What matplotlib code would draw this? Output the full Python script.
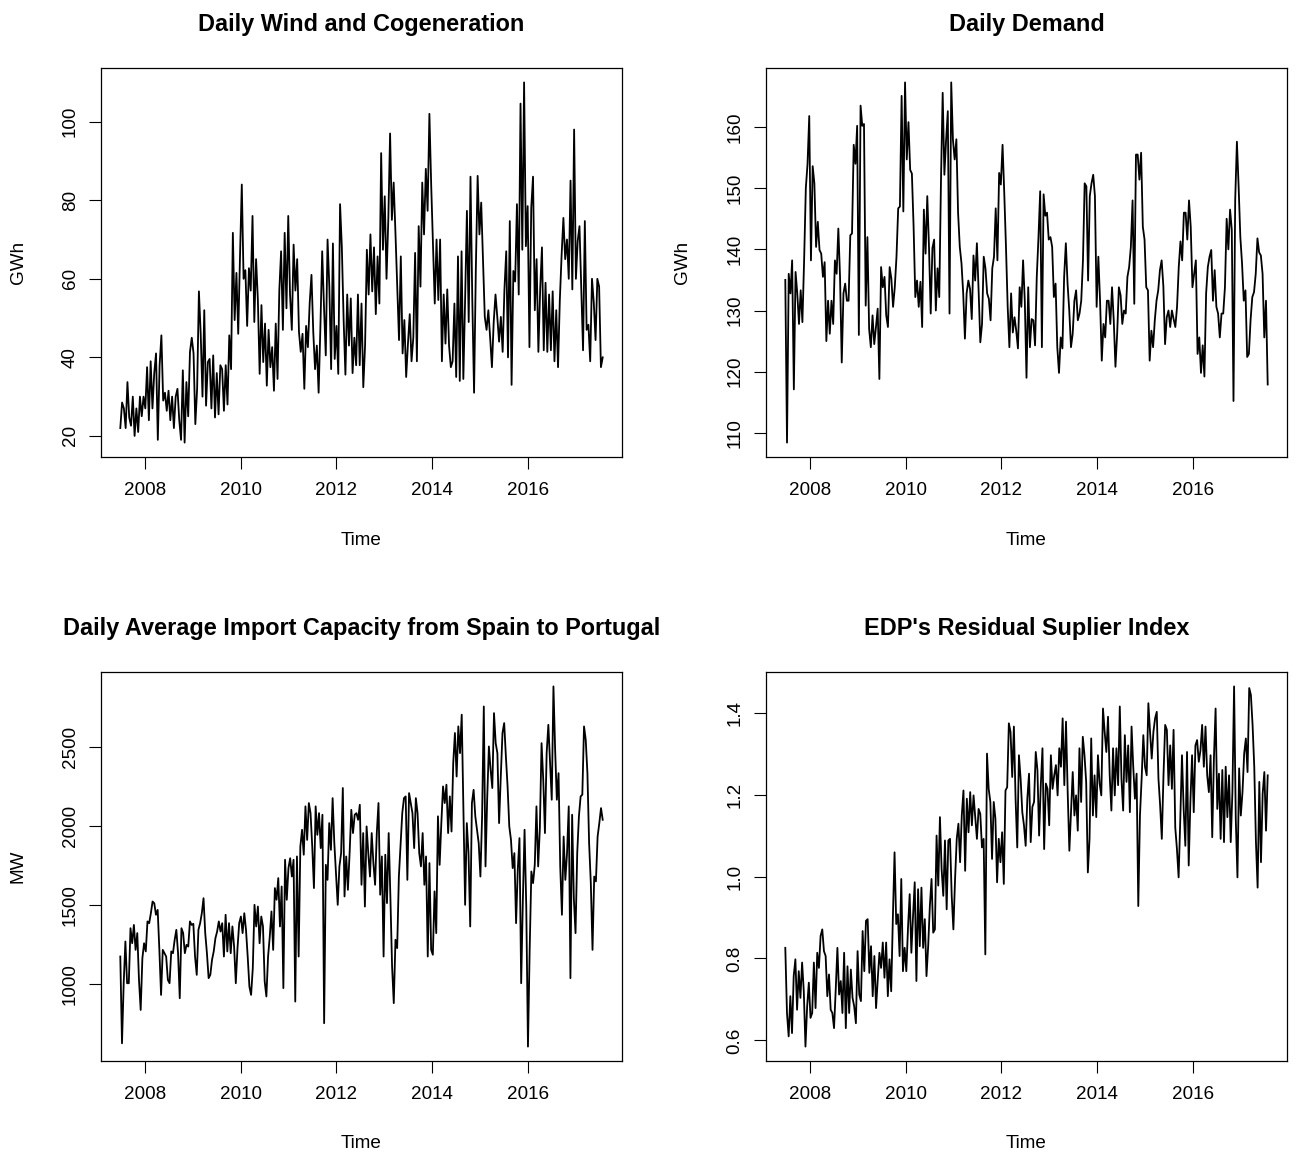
import matplotlib
matplotlib.use("Agg")
import matplotlib.pyplot as plt
import numpy as np
from matplotlib.ticker import FormatStrFormatter

plt.rcParams['font.family'] = ['Liberation Sans', 'DejaVu Sans']

# weekly series, mid-2007 to mid-2017
T_START, T_END = 2007.48, 2017.57

wind = [
    # 2007
    22, 28.5, 27, 22, 33.7, 24.7, 22.6, 30, 20, 27, 21, 30, 25, 30, 27,
    # 2008
    37.5, 24, 39, 27, 36, 41, 19, 38, 45.6, 29, 31, 26.4, 31.5, 24, 30, 22, 30, 32, 24, 19, 36.7, 18.3, 33.7, 25, 41.4, 45,
    # 2009
    41, 23, 32, 56.8, 46, 30, 52, 27.7, 38.8, 39.6, 27, 40.5, 24.7, 36, 25.5, 38, 37, 26.4, 38, 28, 45.6, 37, 71.7, 49.5, 61.5, 46, 65.7,
    # 2010
    84, 60, 62.2, 48, 62.7, 57, 76, 49, 65, 54.6, 35.8, 53.3, 38.8, 48.6, 32.8, 47, 37.5, 42.6, 31.5, 48.6, 34.5, 57, 67, 47, 71.7, 52.5, 76,
    # 2011
    56, 47, 68.7, 57, 65, 46.5, 41.4, 46, 32, 48, 42.6, 53.8, 61, 46.5, 37, 43, 31, 47.8, 67, 53, 40.5, 70, 58, 37,
    # 2012
    69, 39.6, 48, 35.8, 79, 68, 49.5, 35.6, 56, 43, 55, 36, 45, 38, 56, 38, 53.7, 32.4, 43, 67.4, 56, 71.3, 56.8, 68, 51, 65.7, 53.7,
    # 2013
    92, 67.4, 81, 60, 75, 97, 75, 84.5, 71.7, 58, 44.4, 65.7, 41, 49.5, 35, 43.5, 51, 39, 45, 66.6, 39, 73.4, 58, 84.5, 71.3, 88, 77.3,
    # 2014
    102, 84, 69, 53.7, 70, 54.6, 70, 39, 56, 43.5, 57.3, 43, 37.5, 39, 53.7, 35, 65.7, 34, 67, 34.5, 55, 77.3, 49, 86, 55, 31, 62.7,
    # 2015
    86.2, 71.3, 79.4, 65, 50.3, 47, 52, 45, 37.5, 49, 56, 50.3, 44, 50.3, 41.4, 57.3, 67, 40, 74.7, 33, 62, 59.3, 79, 56, 104.6, 67.4,
    # 2016
    110, 68.3, 78.5, 42.6, 78, 86, 52, 65, 41.4, 57.3, 68, 41.8, 59, 41.4, 56, 41.8, 56.8, 39, 52, 37.5, 54.6, 66, 75.5, 65, 70, 60, 85, 57.3, 98,
    # 2017
    60, 69.6, 73.4, 58, 41.8, 74.7, 47, 48.3, 39, 60, 54, 44.4, 60, 58, 37.5, 40,
]

demand = [
    # 2007
    135, 108.4, 136, 132.8, 138.2, 117.1, 136.3, 132.8, 127.8, 133.3, 128.1, 138.2, 150, 154, 161.8,
    # 2008
    138.2, 153.6, 150.8, 140.4, 144.5, 139.9, 139.3, 135.5, 137.9, 125, 131.6, 126.2, 131.6, 127.8, 138.2, 136, 143.4, 135.5,
    121.5, 132.8, 134.4, 131.6, 131.6, 142.3, 142.6, 157.1, 154, 160.2, 126,
    # 2009
    163.5, 160.2, 160.5, 130.8, 142, 127, 124, 129.2, 124.5, 127.3, 130.3, 118.8, 137.1, 133.8, 135.5, 129.2, 127.3, 137.1,
    135.2, 130.6, 133.8, 138.8, 146.7, 147, 165.1, 146.2,
    # 2010
    167.3, 154.7, 160.8, 153, 152.4, 143.7, 132.2, 134.9, 130.6, 134.7, 127.3, 146.5, 139.3, 148.7, 140.4, 129.5, 140.2, 141.6,
    130, 136.9, 132.2, 151.1, 165.6, 152.2, 157.9, 162.6, 129.5, 167.3,
    # 2011
    157.9, 154.7, 158, 146, 140.4, 137.7, 132.8, 125.4, 132.8, 134.9, 133.5, 128.6, 139, 134.9, 141, 133.3, 124.8, 127.8,
    138.8, 136.9, 132.8, 131.9, 128.4, 136.9, 138.8, 146.7, 138.2, 152.5,
    # 2012
    150.6, 157.1, 149.2, 140.4, 130.6, 124, 132.8, 126.4, 128.9, 126.7, 123.8, 133.8, 130.6, 138.2, 131.6, 119, 133.8, 124,
    128.6, 128.4, 124.3, 135.5, 142, 149.5, 124, 149,
    # 2013
    145.5, 146, 141.6, 142, 140.4, 132.2, 134.4, 124, 119.8, 125.6, 123.8, 135.5, 141, 134.4, 130, 124, 126.2, 131.6,
    133.3, 128.4, 129.5, 131.6, 138.2, 150.8, 150.3, 134.9, 148.7, 150.8,
    # 2014
    152.2, 148.7, 130.6, 138.8, 131.6, 121.8, 127.8, 125.6, 131.6, 131.6, 127.8, 133.8, 128.4, 120.8, 126.2, 133.8, 132.5,
    127.8, 130, 129.5, 135.5, 137.1, 140.4, 148, 131.1, 155.5, 155.5, 151.4, 155.8,
    # 2015
    143.7, 141.6, 133.8, 133.3, 121.8, 126.7, 124, 128.4, 131.6, 133.3, 136.6, 138.2, 134, 124.5, 128.9, 130, 127.3, 130,
    128.6, 127.3, 130.6, 137.1, 141.3, 138.2, 146, 146, 141.6, 148,
    # 2016
    143.7, 133.8, 136, 138.2, 122.9, 125.6, 119.8, 124.3, 119.2, 132.8, 137.1, 138.8, 139.9, 131.6, 136.6, 130.6, 129.5,
    125.6, 129.5, 129.5, 133.8, 145, 140, 146.5, 143.2, 115.2, 148.1, 157.6,
    # 2017
    150.3, 142, 137.7, 131.6, 133.3, 122.4, 122.9, 128.5, 132.2, 133, 136, 141.8, 139.5, 139, 136, 125.6, 131.6, 117.9,
]

import_capacity = [
    # 2007
    1173, 624, 1004, 1268, 1004, 1004, 1352, 1257, 1373, 1215, 1321, 1025, 835, 1162, 1257,
    # 2008
    1205, 1395, 1384, 1447, 1521, 1510, 1437, 1468, 1215, 930, 1215, 1194, 1173, 1025, 1004, 1205, 1194, 1278, 1342, 1194,
    909, 1352, 1321, 1194, 1247, 1236, 1395,
    # 2009
    1373, 1380, 1173, 1057, 1342, 1384, 1447, 1542, 1321, 1194, 1036, 1057, 1152, 1205, 1289, 1331, 1395, 1331, 1384, 1173,
    1437, 1205, 1384, 1194, 1363, 1236, 1004,
    # 2010
    1226, 1384, 1426, 1321, 1447, 1342, 1173, 983, 930, 1099, 1500, 1363, 1489, 1257, 1426, 1363, 1015, 920, 1173, 1300,
    1458, 1215, 1606, 1532, 1669, 1363, 1616, 973,
    # 2011
    1785, 1532, 1732, 1795, 1679, 1785, 888, 1806, 1173, 1869, 1975, 1817, 2123, 1911, 2144, 2080, 1869, 1606, 2123, 1943,
    2080, 1859, 2070, 751, 1753, 1658, 2017, 1848, 2175,
    # 2012
    1890, 1700, 1500, 1743, 1827, 2239, 1553, 1806, 1595, 1827, 2101, 1954, 2070, 2080, 2038, 2133, 1627, 1954, 1489, 1996,
    1827, 1679, 1954, 1764, 1627, 1954, 2144, 1564, 1806,
    # 2013
    1173, 1817, 1511, 1954, 1553, 1110, 878, 1279, 1226, 1679, 1880, 2080, 2175, 2186, 1658, 2207, 2144, 2080, 1859, 2175,
    2080, 1827, 1743, 1954, 1627, 1806, 1173, 1764, 1215, 1184,
    # 2014
    1585, 1321, 2060, 1753, 2017, 2249, 2144, 2260, 1954, 2186, 1964, 2397, 2587, 2312, 2629, 2460, 2703, 2101, 1500, 2017,
    1827, 1363, 2144, 2228, 2060, 1975, 1890, 1679,
    # 2015
    2060, 2755, 1743, 2175, 2502, 2355, 2239, 2713, 2523, 2460, 2017, 2312, 2587, 2650, 2439, 2249, 1996, 1911, 1732, 1827,
    1384, 1722, 1922, 1004, 1532, 1975, 1489,
    # 2016
    603, 1215, 1711, 1637, 1753, 2123, 1743, 1985, 2523, 2291, 1954, 2460, 2639, 2397, 2165, 2882, 2481, 2165, 2333, 1743,
    1437, 1932, 1658, 1827, 2123, 1036, 2070, 1542, 1321,
    # 2017
    1827, 2060, 2186, 2197, 2629, 2545, 2333, 1890, 1637, 1215, 1679, 1648, 1932, 2017, 2112, 2038,
]

rsi = [
    # 2007
    0.826, 0.667, 0.61, 0.708, 0.618, 0.757, 0.798, 0.675, 0.769, 0.704, 0.79, 0.72, 0.585, 0.683, 0.741,
    # 2008
    0.655, 0.667, 0.79, 0.679, 0.814, 0.777, 0.855, 0.871, 0.818, 0.806, 0.708, 0.761, 0.675, 0.667, 0.63, 0.724, 0.826,
    0.712, 0.745, 0.667, 0.814, 0.63, 0.781, 0.667, 0.773, 0.704, 0.683, 0.642,
    # 2009
    0.818, 0.712, 0.696, 0.867, 0.769, 0.892, 0.896, 0.765, 0.83, 0.708, 0.806, 0.679, 0.749, 0.814, 0.777, 0.839, 0.753,
    0.839, 0.708, 0.798, 0.72, 0.9, 1.059, 0.884, 0.908, 0.806, 0.994, 0.769,
    # 2010
    0.826, 0.769, 0.875, 0.957, 0.814, 0.904, 0.986, 0.745, 0.969, 0.83, 0.973, 0.826, 0.896, 0.757, 0.83, 0.928, 0.994,
    0.863, 0.871, 1.1, 0.978, 1.145, 1.018, 0.953, 1.088, 0.92, 1.088, 1.092,
    # 2011
    0.953, 0.871, 0.994, 1.092, 1.129, 1.035, 1.149, 1.21, 1.014, 1.19, 1.108, 1.206, 1.125, 1.198, 1.145, 1.092, 1.165,
    1.153, 1.071, 1.092, 0.81, 1.3, 1.214, 1.182, 1.043, 1.182, 1.141, 0.986,
    # 2012
    1.092, 1.035, 1.108, 0.982, 1.21, 1.218, 1.374, 1.353, 1.243, 1.366, 1.19, 1.071, 1.296, 1.239, 1.157, 1.125, 1.075,
    1.19, 1.251, 1.084, 1.17, 1.182, 1.304, 1.26, 1.1, 1.223, 1.313, 1.067, 1.227,
    # 2013
    1.214, 1.125, 1.296, 1.214, 1.247, 1.272, 1.198, 1.313, 1.268, 1.386, 1.223, 1.378, 1.206, 1.063, 1.157, 1.255, 1.149,
    1.198, 1.112, 1.313, 1.182, 1.341, 1.296, 1.231, 1.01, 1.092, 1.337, 1.149,
    # 2014
    1.247, 1.145, 1.296, 1.227, 1.198, 1.41, 1.353, 1.304, 1.39, 1.247, 1.161, 1.313, 1.198, 1.313, 1.223, 1.415, 1.239,
    1.161, 1.345, 1.231, 1.32, 1.157, 1.366, 1.268, 1.19, 1.251, 0.928, 1.149,
    # 2015
    1.239, 1.345, 1.268, 1.247, 1.423, 1.353, 1.288, 1.353, 1.386, 1.402, 1.239, 1.174, 1.092, 1.247, 1.37, 1.358, 1.223,
    1.32, 1.214, 1.358, 1.12, 1.067, 0.998, 1.141, 1.296, 1.165, 1.075, 1.304, 1.027,
    # 2016
    1.182, 1.296, 1.157, 1.32, 1.333, 1.28, 1.308, 1.37, 1.268, 1.366, 1.247, 1.206, 1.296, 1.096, 1.288, 1.41, 1.165,
    1.251, 1.092, 1.26, 1.084, 1.268, 1.145, 1.247, 1.084, 1.206, 1.464, 1.141, 0.998,
    # 2017
    1.264, 1.149, 1.206, 1.3, 1.337, 1.255, 1.46, 1.443, 1.37, 1.268, 1.084, 0.973, 1.231, 1.035, 1.202, 1.255, 1.112, 1.247,
]

titles = ["Daily Wind and Cogeneration", "Daily Demand",
          "Daily Average Import Capacity from Spain to Portugal", "EDP's Residual Suplier Index"]
units = ["GWh", "GWh", "MW", ""]
year_ticks = [2008, 2010, 2012, 2014, 2016]
y_ticks = [[20, 40, 60, 80, 100], [110, 120, 130, 140, 150, 160],
           [1000, 1500, 2000, 2500], [0.6, 0.8, 1.0, 1.2, 1.4]]
y_fmt = ["%d", "%d", "%d", "%.1f"]

W, H = 1296, 1156
fig = plt.figure(figsize=(W / 100, H / 100), dpi=100)

# plot boxes in pixels: left, top, right, bottom
boxes = [(101, 68, 622, 457), (766, 68, 1287, 457),
         (101, 672, 622, 1061), (766, 672, 1287, 1061)]

series = [wind, demand, import_capacity, rsi]

for values, title, unit, yt, fmt, (l, t, r, b) in zip(series, titles, units, y_ticks, y_fmt, boxes):
    ax = fig.add_axes([l / W, 1 - b / H, (r - l) / W, (b - t) / H])
    time = np.linspace(T_START, T_END, len(values))
    ax.plot(time, values, color="black", lw=1.3)
    ax.margins(x=0.04, y=0.04)
    ax.set_xticks(year_ticks)
    ax.set_yticks(yt)
    ax.yaxis.set_major_formatter(FormatStrFormatter(fmt))
    ax.tick_params(direction="out", length=8.6, width=0.8, labelsize=13.6, pad=9.5, colors="black")
    ax.tick_params(axis="y", labelrotation=90, pad=7.5)
    for lbl in ax.get_yticklabels():
        lbl.set_va("center")
    for s in ax.spines.values():
        s.set_linewidth(0.9)

    cx = (l + r) / 2
    fig.text(cx / W, 1 - (t - 37) / H, title, ha="center", va="baseline",
             fontsize=16.9, fontweight="bold")
    fig.text(cx / W, 1 - (b + 83) / H, "Time", ha="center", va="center", fontsize=13.6)
    if unit:
        fig.text((l - 83) / W, 1 - ((t + b) / 2) / H, unit, ha="center", va="center",
                 rotation=90, fontsize=13.6)

fig.savefig("out.png", dpi=100)
